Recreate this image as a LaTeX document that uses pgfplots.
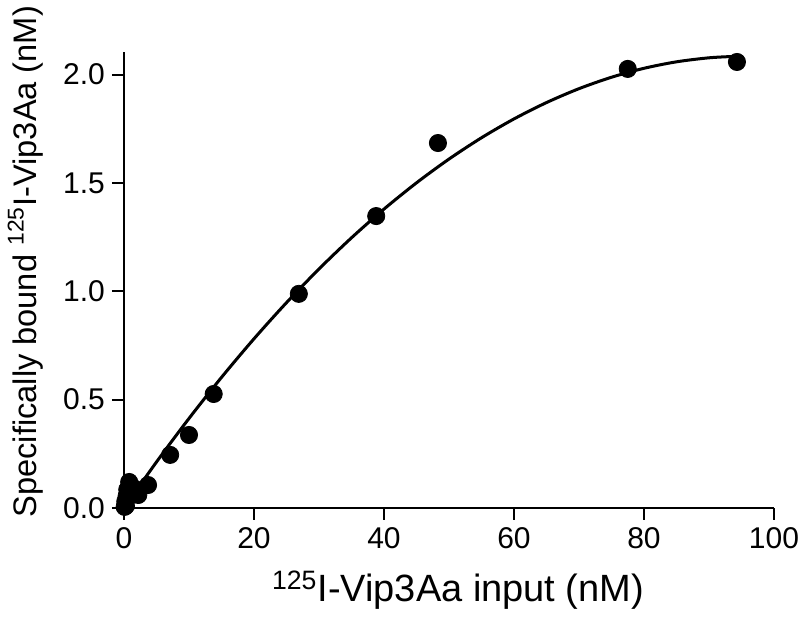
\documentclass[border=0pt]{standalone}
\usepackage{fontspec}
\setmainfont{Liberation Sans}
\usepackage{pgfplots}
\pgfplotsset{compat=1.18}
\begin{document}
\begin{tikzpicture}
\useasboundingbox (-62pt,-56.5pt) rectangle (338pt,254pt);
\begin{axis}[
  at={(0,0)}, anchor=south west,
  scale only axis, width=325pt, height=228pt,
  xmin=0, xmax=100, ymin=0, ymax=2.104,
  axis x line=bottom, axis y line=left,
  axis line style={-, line width=1pt},
  every tick/.style={black, line width=1pt},
  tick align=outside, major tick length=6pt,
  xtick={0,20,40,60,80,100},
  ytick={0,0.5,1,1.5,2},
  yticklabels={0.0,0.5,1.0,1.5,2.0},
  /pgf/number format/assume math mode=true,
  tick label style={font=\fontsize{15}{18}\selectfont},
  clip=false,
  xlabel={\textsuperscript{125}I-Vip3Aa input (nM)},
  ylabel={Specifically bound \textsuperscript{125}I-Vip3Aa (nM)},
  xlabel style={font=\fontsize{19}{22}\selectfont, at={(rel axis cs:0.514,-0.18)}, anchor=center},
  ylabel style={font=\fontsize{16.3}{20}\selectfont, at={(rel axis cs:-0.152,0.54)}, anchor=center},
]
\addplot[black, line width=1.5pt, smooth] coordinates {
(0,0) (5,0.2123) (10,0.4132) (15,0.6027) (20,0.7808) (25,0.9475)
(30,1.1028) (35,1.2467) (40,1.3792) (45,1.5003) (50,1.61) (55,1.7083)
(60,1.7952) (65,1.8707) (70,1.9348) (75,1.9875) (80,2.0288) (85,2.0587)
(90,2.0772) (94,2.0838)
};
\addplot[black, only marks, mark=*, mark size=4.3pt] coordinates {
(94.3,2.058) (77.5,2.026) (48.3,1.684) (38.8,1.347) (26.9,0.988)
(13.8,0.526) (10.0,0.337) (7.1,0.245) (3.7,0.106)
(0.1,0.005) (0.2,0.03) (0.4,0.055) (0.5,0.085) (0.8,0.12)
(1.2,0.06) (1.6,0.09) (2.2,0.06) (0.3,0.01)
};
\end{axis}
\end{tikzpicture}
\end{document}
